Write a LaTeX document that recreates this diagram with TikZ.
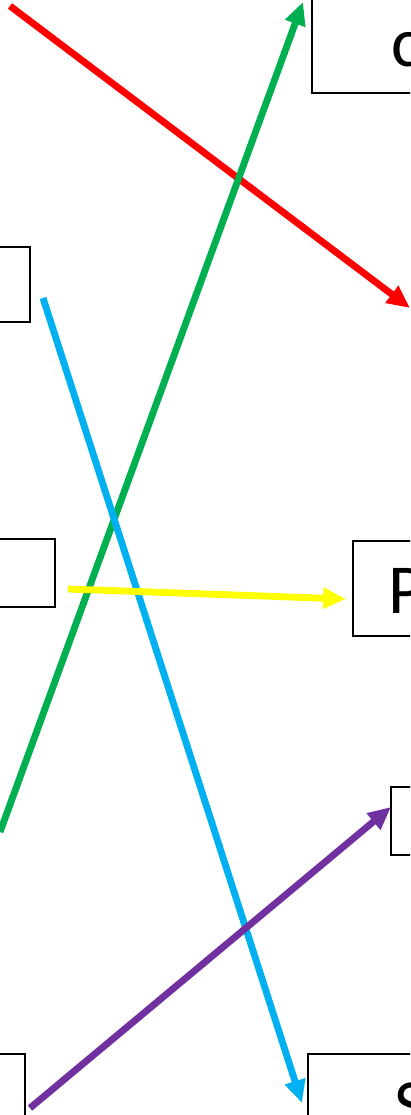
\documentclass[tikz,border=0pt]{standalone}
\usepackage{fontspec}
\setmainfont{Carlito}
\usetikzlibrary{arrows.meta}
\definecolor{linkred}{HTML}{FF0000}
\definecolor{linkgreen}{HTML}{00B050}
\definecolor{linkblue}{HTML}{00B0F0}
\definecolor{linkyellow}{HTML}{FFFF00}
\definecolor{linkpurple}{HTML}{7030A0}
\tikzset{
    box/.style={draw,line width=1pt,inner sep=0pt,outer sep=0pt},
    word/.style={font=\fontsize{40}{48}\selectfont,inner sep=0pt,anchor=base west},
    link/.style={line width=3.9pt,-{Triangle[length=13pt,width=11.5pt]}},
}
\begin{document}
\begin{tikzpicture}[x=0.02cm,y=-0.02cm]
            \useasboundingbox (0,0) rectangle (410,1115);
            \clip (0,0) rectangle (410,1115);
            % left column
            \node[box,minimum width=2cm,minimum height=1.5cm] (left1) at (-20,284.5) {};
            \node[box,minimum width=2cm,minimum height=1.36cm] (left2) at (5,573) {};
            \node[box,minimum width=2cm,minimum height=1.72cm] (left3) at (-25,1097) {};
            % right column
            \node[box,minimum width=4cm,minimum height=2.26cm] (right1) at (412,36.5) {};
            \node[box,minimum width=4cm,minimum height=1.9cm] (right2) at (453,588.5) {};
            \node[box,minimum width=4cm,minimum height=1.36cm] (right3) at (491,821) {};
            \node[box,minimum width=4cm,minimum height=1.72cm] (right4) at (408,1097) {};
            \node[word] (c) at (391,67) {c};
            \node[word] (p) at (388,613) {P};
            \node[word] (s) at (394,1128) {S};
            % arrow ends
            \coordinate (redA) at (10,6);
            \coordinate (redB) at (410,308);
            \coordinate (greenA) at (0,832);
            \coordinate (greenB) at (303,2);
            \coordinate (blueA) at (43,298);
            \coordinate (blueB) at (302,1103);
            \coordinate (yellowA) at (68,589);
            \coordinate (yellowB) at (346,599);
            \coordinate (purpleA) at (30,1108);
            \coordinate (purpleB) at (391,807);
            \draw[link,linkred] (redA) -- (redB);
            \draw[link,linkgreen] (greenA) -- (greenB);
            \draw[link,linkblue] (blueA) -- (blueB);
            \draw[link,linkyellow] (yellowA) -- (yellowB);
            \draw[link,linkpurple] (purpleA) -- (purpleB);
\end{tikzpicture}
\end{document}
